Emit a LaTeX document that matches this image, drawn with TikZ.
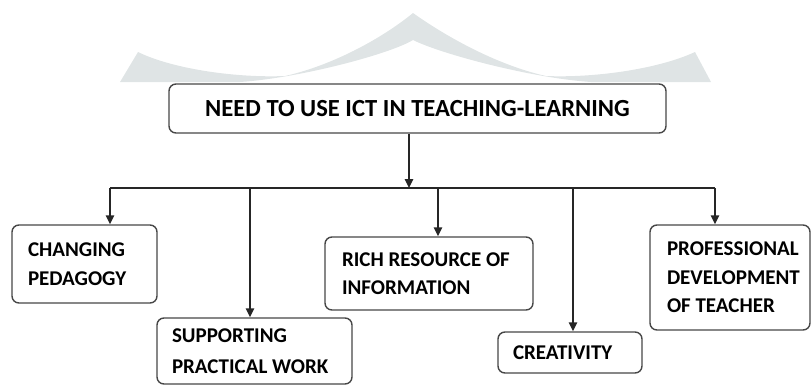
\documentclass[tikz,border=0pt]{standalone}
\usepackage{fontspec}
\setmainfont{Carlito}
\usepackage{tikz}
\usetikzlibrary{positioning, arrows.meta}
\colorlet{myline}{black!85}
\colorlet{myframe}{black!72}
\definecolor{mywash}{RGB}{223,228,229}

\begin{document}
\begin{tikzpicture}[
    x=1pt, y=-1pt,
    box/.style = {rectangle, draw=myframe, line width=1.4pt, rounded corners=7pt,
      align=flush left, inner ysep=0pt,
      font=\fontsize{21}{28.5}\selectfont\bfseries},
    link/.style = {draw=myline, line width=1.4pt},
    arr/.style = {link, -{Triangle[length=9pt, width=8.5pt]}},
  ]
\useasboundingbox (0,0) rectangle (812,386);

% pale roof shape behind the title
\fill[mywash] (120,82) -- (138,52)
    .. controls (175,70) and (240,78) .. (285,76)
    .. controls (330,66) and (380,40) .. (413,13)
    .. controls (451,40) and (501,66) .. (546,76)
    .. controls (591,78) and (656,70) .. (695,52) -- (711,82) -- (591,82)
    .. controls (531,78) and (441,54) .. (413,40)
    .. controls (390,54) and (300,78) .. (240,82) -- cycle;

% title
\node[box, align=center, minimum width=497pt, minimum height=49pt,
      font=\fontsize{24.6}{28}\selectfont\bfseries] (need) at (417.5,108.5)
    {NEED TO USE ICT IN TEACHING-LEARNING};

% the five needs
\node[box, inner xsep=16pt, text width=113pt, minimum height=78pt] (peda) at (84.5,264)
    {CHANGING\\PEDAGOGY};
\node[box, inner xsep=15pt, text width=165pt, minimum height=66pt,
      font=\fontsize{21}{31}\selectfont\bfseries] (prac) at (254.5,351)
    {SUPPORTING\\PRACTICAL WORK};
\node[box, inner xsep=17pt, text width=174pt, minimum height=73pt] (info) at (429,273.5)
    {RICH RESOURCE OF\\INFORMATION};
\node[box, inner xsep=15pt, text width=114pt, minimum height=41pt] (crea) at (570,352.5)
    {CREATIVITY};
\node[box, inner xsep=17pt, text width=126pt, minimum height=105pt] (prof) at (730,277.5)
    {PROFESSIONAL\\DEVELOPMENT\\OF TEACHER};

% branching lines
\coordinate (bus) at (409,188);
\coordinate (j1) at (110,188);
\coordinate (j2) at (250,188);
\coordinate (j3) at (438,188);
\coordinate (j4) at (573,188);
\coordinate (j5) at (715,188);

\draw[arr] (need.south -| bus) -- (bus);
\draw[link] (j1) -- (j5);
\foreach \j/\n in {j1/peda, j2/prac, j3/info, j4/crea, j5/prof}
  \draw[arr] (\j) -- (\j |- \n.north);
\end{tikzpicture}
\end{document}
